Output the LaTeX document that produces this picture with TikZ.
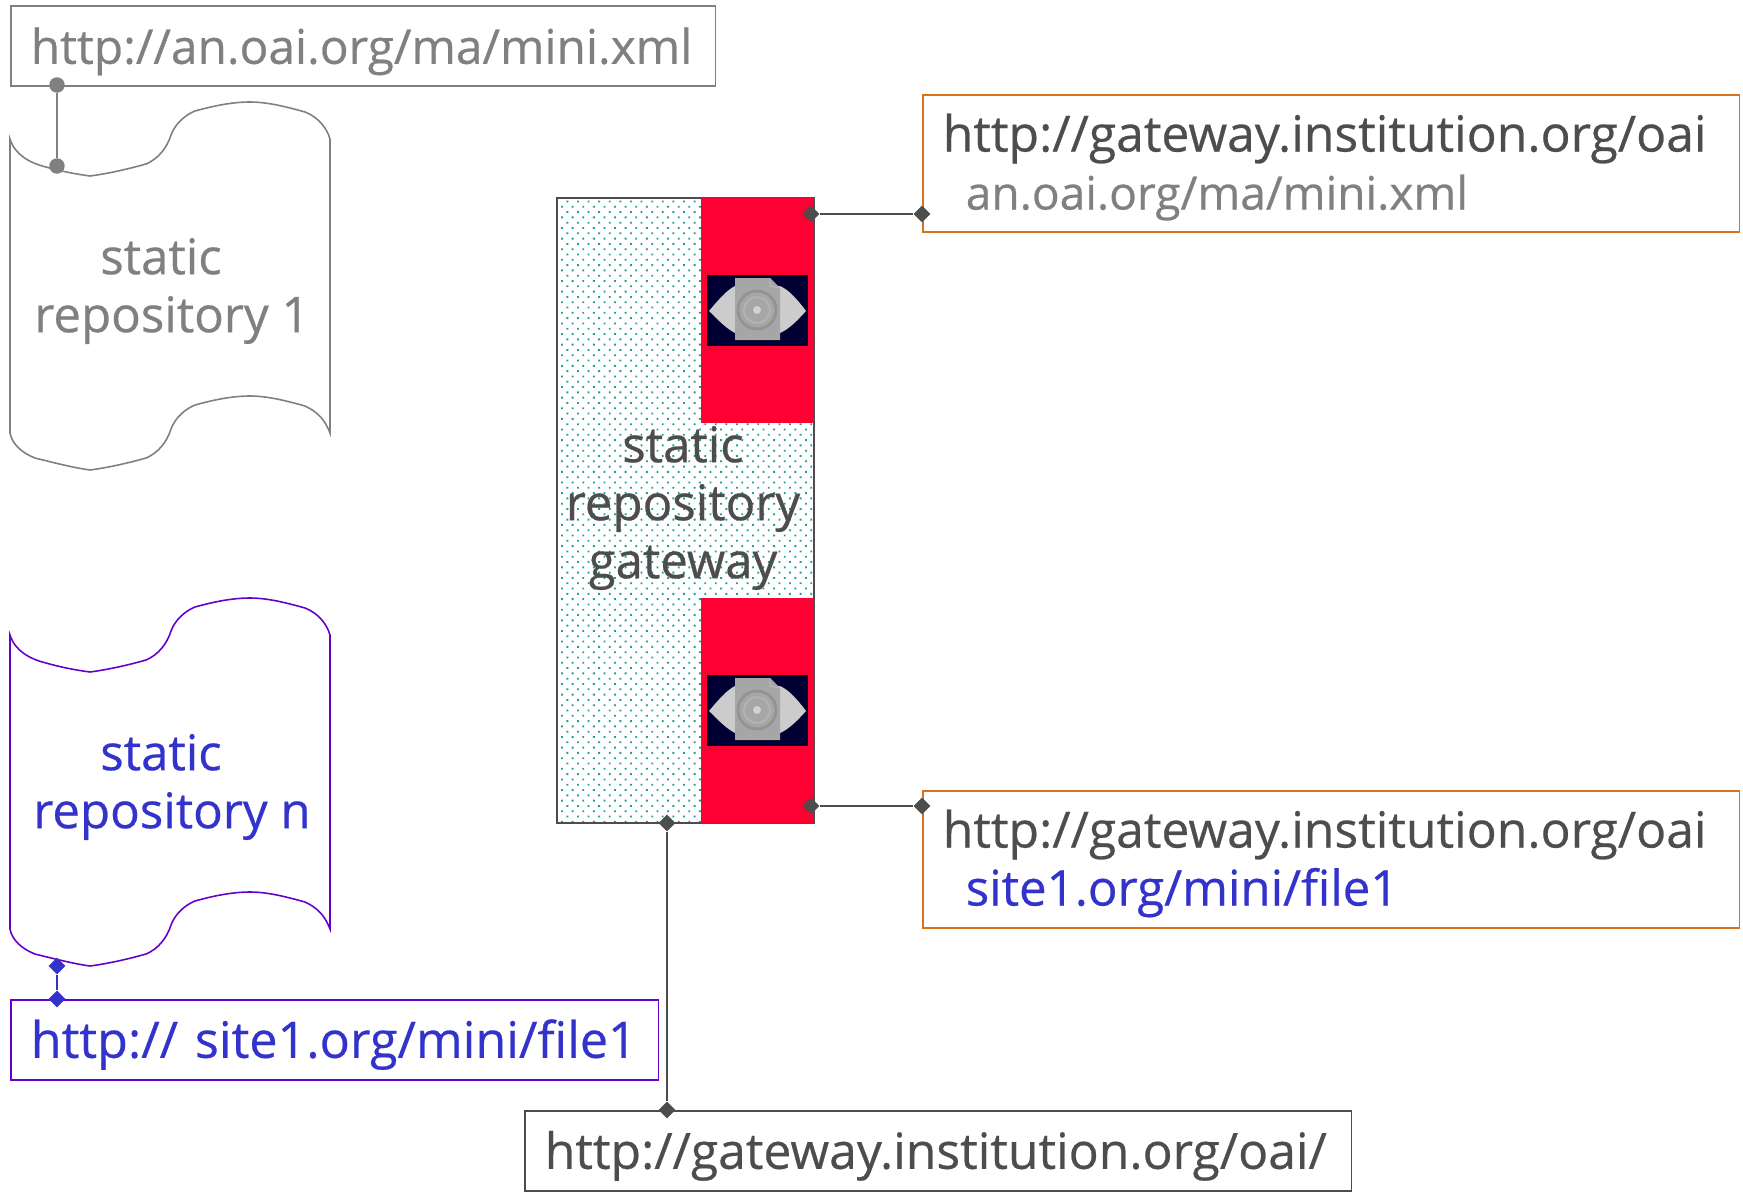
\documentclass[tikz,border=0pt]{standalone}
\usepackage{fontspec}
\setmainfont{Open Sans}[FakeBold=0.5]
\usetikzlibrary{shapes.geometric,patterns.meta}
\definecolor{greytext}{HTML}{808080}
\definecolor{darktext}{HTML}{4D4D4D}
\definecolor{bluetext}{HTML}{3333CC}
\definecolor{purpleline}{HTML}{6600CC}
\definecolor{orangeline}{HTML}{D9731A}
\definecolor{redfill}{HTML}{FF0033}
\definecolor{navyfill}{HTML}{000033}
\definecolor{tealdot}{HTML}{20A090}
\newcommand{\urlsize}[1]{\fontsize{#1}{33}\selectfont}
\tikzset{
  urlbox/.style={draw, line width=0.9pt, anchor=north west, inner xsep=0.4cm, inner ysep=0pt, align=left,
    font=\urlsize{28.35}},
  oneline/.style={text height=1cm, text depth=0.28cm, minimum height=1.6cm},
  twolines/.style={text height=0.8cm, text depth=1.27cm, minimum height=2.74cm},
  repotext/.style={align=center, font=\urlsize{28}},
  tipdiamond/.style={diamond, fill, inner sep=0pt, minimum size=0.34cm},
  tipdot/.style={circle, fill, inner sep=0pt, minimum size=0.31cm},
  repo/.pic={
    \draw[line width=0.9pt, pic actions] (10,139) .. controls (15,155) and (30,163) .. (46,167)
      .. controls (60,171) and (75,174) .. (90,176) .. controls (105,174) and (125,170) .. (146,164)
      .. controls (158,159) and (167,148) .. (171,135) .. controls (175,124) and (185,115) .. (195,111)
      .. controls (213,106) and (232,102) .. (250,102) .. controls (268,102) and (287,107) .. (305,112)
      .. controls (318,117) and (327,128) .. (330,139) -- (330,433)
      .. controls (325,420) and (318,412) .. (305,406) .. controls (287,401) and (268,396) .. (250,396)
      .. controls (232,396) and (213,400) .. (195,405) .. controls (185,409) and (175,418) .. (171,429)
      .. controls (167,442) and (158,453) .. (146,458) .. controls (125,464) and (105,468) .. (90,470)
      .. controls (75,468) and (55,463) .. (35,458) .. controls (22,453) and (12,444) .. (10,433) -- cycle;
  },
  eyeicon/.pic={
    \fill[navyfill] (0,0) rectangle (101,71);
    \fill[gray!40] (2,36) .. controls (12,24) and (20,15) .. (28,11) -- (73,11)
      .. controls (82,15) and (90,24) .. (99,36) .. controls (90,46) and (82,54) .. (73,58) -- (28,58)
      .. controls (20,54) and (12,46) .. (2,36) -- cycle;
    \fill[gray!70!white] (28,3) -- (63,3) -- (73,13) -- (73,65) -- (28,65) -- cycle;
    \draw[gray!50!white] (63,3) -- (63,11) -- (73,13);
    \draw[gray!85!white, line width=1.6pt] (50,35) circle (19);
    \draw[gray!60!white, line width=1.2pt] (50,35) circle (13);
    \fill[gray!35!white] (50,35) circle (4);
  }
}
\begin{document}
\begin{tikzpicture}[x=0.02cm, y=-0.02cm]
    \useasboundingbox (0,0) rectangle (1743,1193);

    \fill[white] (0,0) rectangle (1743,1193);
    \pic[draw=greytext] (repo1) at (0,0) {repo};
    \pic[draw=purpleline] (repon) at (0,496) {repo};
    \node[repotext, text=greytext] (repo1text) at (172,291) {static\hspace*{0.44cm}\\repository 1};
    \node[repotext, text=bluetext] (repontext) at (172,787) {static\hspace*{0.44cm}\\repository n};

    \node[urlbox, oneline, draw=greytext, text=greytext, text width=13.3cm, font=\urlsize{27.2}] (minibox) at (10,5) {http://an.oai.org/ma/mini.xml};
    \node[urlbox, oneline, draw=purpleline, text=bluetext, text width=12.16cm, font=\urlsize{28.6}] (siteurl) at (10,999) {\mbox{http:// site1.org/mini/file1}};
    \node[urlbox, oneline, draw=darktext, text=darktext, text width=15.74cm] (gatewayurl) at (524,1110) {http://gateway.institution.org/oai/};
    \node[urlbox, twolines, draw=orangeline, text=darktext, text width=15.54cm] (gatewaytop) at (922,94)
      {http://gateway.institution.org/oai\\\hspace*{0.46cm}\textcolor{greytext}{\urlsize{26.2}an.oai.org/ma/mini.xml}};
    \node[urlbox, twolines, draw=orangeline, text=darktext, text width=15.54cm] (gatewaybot) at (922,790)
      {http://gateway.institution.org/oai\\\hspace*{0.46cm}\textcolor{bluetext}{\urlsize{28}site1.org/mini/file1}};

    \draw[darktext, line width=0.9pt, pattern={Dots[angle=45, distance=1.5mm, radius=0.26mm]}, pattern color=tealdot] (557,198) rectangle (814,823);
    \fill[redfill] (701,198) rectangle (814,423);
    \fill[redfill] (701,598) rectangle (814,823);
    \pic (icontop) at (707,275) {eyeicon};
    \pic (iconbot) at (707,675) {eyeicon};
    \node[repotext, text=darktext] (gatewaytext) at (683,508) {static\\repository\\gateway};

    \node[tipdot, greytext] (a1) at (57,85) {};
    \node[tipdot, greytext] (a2) at (57,166) {};
    \draw[greytext, line width=1.4pt] (a1) -- (a2);
    \node[tipdiamond, bluetext] (b1) at (57,966) {};
    \node[tipdiamond, bluetext] (b2) at (57,999) {};
    \draw[bluetext, line width=1.4pt] (b1) -- (b2);
    \node[tipdiamond, darktext] (c1) at (811,214) {};
    \node[tipdiamond, darktext] (c2) at (922,214) {};
    \draw[darktext, line width=1.4pt] (c1) -- (c2);
    \node[tipdiamond, darktext] (d1) at (811,806) {};
    \node[tipdiamond, darktext] (d2) at (922,806) {};
    \draw[darktext, line width=1.4pt] (d1) -- (d2);
    \node[tipdiamond, darktext] (e1) at (667,823) {};
    \node[tipdiamond, darktext] (e2) at (667,1110) {};
    \draw[darktext, line width=1.4pt] (e1) -- (e2);
\end{tikzpicture}
\end{document}
